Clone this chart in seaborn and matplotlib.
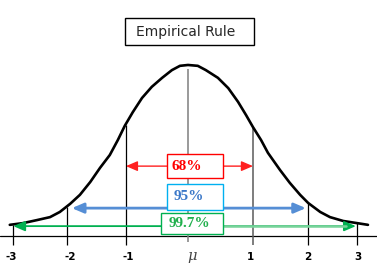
import matplotlib
matplotlib.use("Agg")
import matplotlib.pyplot as plt
from matplotlib.patches import Rectangle
import seaborn as sns
import pandas as pd

# ---- data (x in sigma units, y in density units) ----
curve_x = [-3.10, -2.87, -2.63, -2.40, -2.23, -2.05, -1.88, -1.70, -1.53, -1.36,
           -1.22, -1.10, -0.96, -0.80, -0.63, -0.45, -0.28, -0.14, 0.00, 0.17,
           0.31, 0.52, 0.70, 0.87, 1.01, 1.13, 1.27, 1.39, 1.60, 1.77,
           1.95, 2.09, 2.30, 2.47, 2.70, 2.94, 3.13]
curve_y = [0.026, 0.030, 0.037, 0.044, 0.056, 0.075, 0.096, 0.126, 0.159, 0.189,
           0.224, 0.257, 0.289, 0.322, 0.348, 0.369, 0.387, 0.397, 0.399, 0.397,
           0.387, 0.369, 0.345, 0.313, 0.282, 0.254, 0.224, 0.194, 0.154, 0.124,
           0.096, 0.077, 0.056, 0.044, 0.035, 0.030, 0.026]

sigma_line_x = [-3.04, -2.10, -1.08, 0.00, 1.13, 2.09, 2.94]
sigma_line_top = [0.026, 0.068, 0.259, 0.390, 0.254, 0.077, 0.030]
sigma_line_colors = ["black", "black", "black", "#7f7f7f", "#5a5a5a", "black", "black"]

tick_labels = ["-3", "-2", "-1", "\u03bc", "1", "2", "3"]
tick_label_x = [-3.08, -2.05, -1.04, 0.07, 1.08, 2.09, 2.96]

pct_labels = ["68%", "95%", "99.7%"]
pct_text_colors = ["#ff0000", "#3b78c8", "#22b04e"]
pct_edge_colors = ["#ff0000", "#00b0f0", "#00b050"]
arrow_colors = ["#ff2020", "#558ed5", "#00b050"]
arrow_left = [-1.08, -2.02, -3.04]
arrow_right = [1.13, 2.05, 2.92]
arrow_y = [0.163, 0.065, 0.023]

title = "Empirical Rule"

# ---- figure ----
sns.set_style("white")
fig = plt.figure(figsize=(3.77, 2.80), dpi=100)
ax = fig.add_axes([0, 0, 1, 1])

# baseline
ax.axhline(0, color="black", lw=0.9, zorder=1)

# sigma lines
for xv, top, c in zip(sigma_line_x, sigma_line_top, sigma_line_colors):
    bottom = -0.014 if xv == 0 else -0.021
    ax.plot([xv, xv], [bottom, top], color=c, lw=1.1 if c != "black" else 0.9,
            solid_capstyle="butt", zorder=2)

# curve
df = pd.DataFrame({"x": curve_x, "y": curve_y})
sns.lineplot(data=df, x="x", y="y", sort=False, color="black", lw=1.9, ax=ax,
             zorder=3)
ax.set_xlim(-3.270, 3.287)
ax.set_ylim(-0.1027, 0.5506)
ax.axis("off")

# arrows
hs = "head_length=0.7,head_width=0.3"
for i in range(2):
    ax.annotate("", xy=(arrow_right[i], arrow_y[i]), xytext=(arrow_left[i], arrow_y[i]),
                arrowprops=dict(arrowstyle="<|-|>," + hs, color=arrow_colors[i],
                                lw=1.0 if i == 0 else 2.0, shrinkA=0, shrinkB=0),
                zorder=4)
# green arrow: dark left half, light right shaft
ax.annotate("", xy=(arrow_left[2], arrow_y[2]), xytext=(0.0, arrow_y[2]),
            arrowprops=dict(arrowstyle="-|>," + hs, color=arrow_colors[2], lw=1.3,
                            shrinkA=0, shrinkB=0), zorder=4)
ax.annotate("", xy=(arrow_right[2], arrow_y[2]), xytext=(0.0, arrow_y[2]),
            arrowprops=dict(arrowstyle="-|>," + hs, color=arrow_colors[2], lw=1.3,
                            shrinkA=0, shrinkB=0), zorder=4)
ax.plot([0.62, 2.75], [arrow_y[2], arrow_y[2]], color="#77d39a", lw=1.8, zorder=4.5)

# percentage boxes
boxes = [(-0.365, 0.135, 0.974, 0.056),
         (-0.365, 0.061, 0.974, 0.060),
         (-0.470, 0.005, 1.079, 0.049)]
text_pos = [(-0.02, 0.163), (0.02, 0.091), (0.02, 0.030)]
for i, (bx, by, bw, bh) in enumerate(boxes):
    ax.add_patch(Rectangle((bx, by), bw, bh, facecolor="white",
                           edgecolor=pct_edge_colors[i], lw=1.0, zorder=5))
    ax.text(text_pos[i][0], text_pos[i][1], pct_labels[i], color=pct_text_colors[i],
            family="Liberation Serif", weight="bold", fontsize=11,
            ha="center", va="center", zorder=6)

# tick labels
for lx, lab in zip(tick_label_x, tick_labels):
    if lab == "\u03bc":
        ax.text(lx, -0.047, lab, family="DejaVu Serif", style="italic",
                fontsize=10.5, color="#444444", ha="center", va="center")
    else:
        ax.text(lx, -0.050, lab, family="DejaVu Sans", weight="bold",
                fontsize=7.5, color="black", ha="center", va="center")

# title box
ax.add_patch(Rectangle((-1.096, 0.4456), 2.244, 0.0631, facecolor="white",
                       edgecolor="black", lw=1.0, zorder=5))
ax.text(-0.035, 0.477, title, family="DejaVu Sans", fontsize=10,
        ha="center", va="center", zorder=6)

fig.savefig("out.png", dpi=100)
